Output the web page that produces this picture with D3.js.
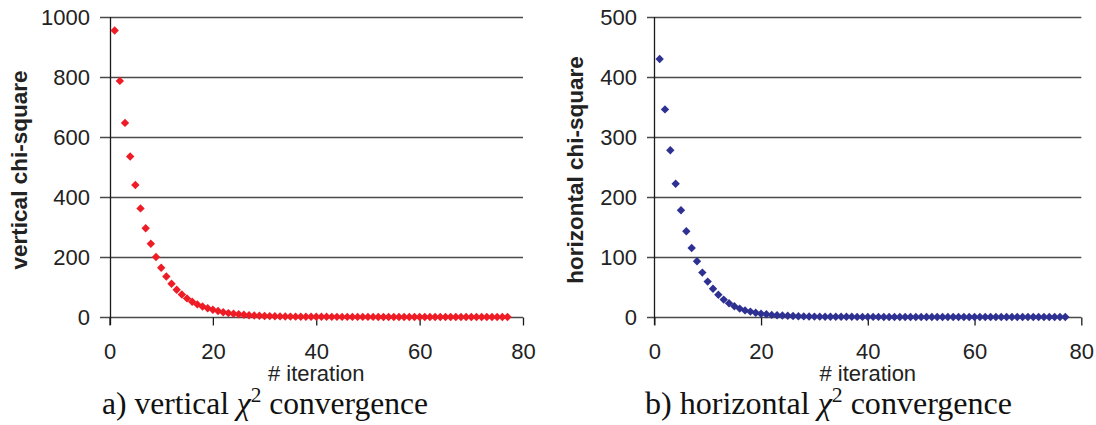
<!DOCTYPE html>
<html>
<head>
<meta charset="utf-8">
<script src="https://cdn.jsdelivr.net/npm/d3@7"></script>
<style>
  body { margin: 0; background: #fff; }
  svg { display: block; }
</style>
</head>
<body>
<script>
/* ===== data ===== */
// iteration numbers 1..77
var iterations = [];
for (var k = 1; k <= 77; k++) iterations.push(k);

var verticalChi = [955, 787, 647, 535, 440, 362, 296, 244, 200, 164,
    135, 111, 91, 75, 62, 51, 42, 35, 29, 24,
    20, 16, 13, 11, 9, 7.5, 6, 5, 4, 3.5,
    3, 2.5, 2, 1.6, 1.3, 1.1, 1, 0.9, 0.8, 0.7,
    0.6, 0.6, 0.5, 0.5, 0.4, 0.4, 0.4, 0.3, 0.3, 0.3,
    0.3, 0.2, 0.2, 0.2, 0.2, 0.2, 0.2, 0.1, 0.1, 0.1,
    0.1, 0.1, 0.1, 0.1, 0.1, 0.1, 0.1, 0.1, 0.1, 0.1,
    0.1, 0.1, 0.1, 0.1, 0.1, 0.1, 0.1];

var horizontalChi = [430, 346, 278, 222, 178, 143, 115, 93, 74, 59,
    47, 37, 29, 23, 18, 14, 11, 9, 7, 5.5,
    4.5, 3.5, 3, 2.5, 2, 1.6, 1.3, 1.0, 0.8, 0.7,
    0.6, 0.5, 0.4, 0.4, 0.3, 0.3, 0.3, 0.2, 0.2, 0.2,
    0.2, 0.2, 0.1, 0.1, 0.1, 0.1, 0.1, 0.1, 0.1, 0.1,
    0.1, 0.1, 0.1, 0.1, 0.1, 0.1, 0.1, 0.1, 0.1, 0.1,
    0.1, 0.1, 0.1, 0.1, 0.1, 0.1, 0.1, 0.1, 0.1, 0.1,
    0.1, 0.1, 0.1, 0.1, 0.1, 0.1, 0.1];

var xTicks = [0, 20, 40, 60, 80];
var vTicks = [0, 200, 400, 600, 800, 1000];
var hTicks = [0, 100, 200, 300, 400, 500];

/* ===== constants ===== */
var w = 1096;
var h = 425;
var sansFont = "'Liberation Sans', Arial, sans-serif";
var serifFont = "'Liberation Serif', 'Times New Roman', serif";
var gridColor = "#4a4a4a";
var axisColor = "#1a1a1a";
var textColor = "#222";

var svg = d3.select("body")
    .append("svg")
    .attr("width", w)
    .attr("height", h);

drawPanel({
    left: 109.5, right: 523, gridStart: 100,
    yMax: 1000, ticks: vTicks, values: verticalChi,
    color: "#ee1c25", yLabel: "vertical chi-square", yLabelX: 27,
    capX: 102, capW: 326, capPrefix: "a) vertical ", capSuffix: " convergence"
});
drawPanel({
    left: 654.3, right: 1081.3, gridStart: 647,
    yMax: 500, ticks: hTicks, values: horizontalChi,
    color: "#2e3192", yLabel: "horizontal chi-square", yLabelX: 583,
    capX: 645, capW: 367, capPrefix: "b) horizontal ", capSuffix: " convergence"
});

function drawPanel(o) {
    var top = 17, bottom = 317;
    var g = svg.append("g");

    var xScale = d3.scaleLinear().domain([0, 80]).range([o.left, o.right]);
    var yScale = d3.scaleLinear().domain([0, o.yMax]).range([bottom, top]);

    // horizontal gridlines (the one at 0 is the x axis)
    g.selectAll("line.grid")
        .data(o.ticks)
        .enter().append("line")
        .attr("class", "grid")
        .attr("x1", o.gridStart)
        .attr("x2", o.right)
        .attr("y1", function (d) { return Math.round(yScale(d)) + 0.5; })
        .attr("y2", function (d) { return Math.round(yScale(d)) + 0.5; })
        .attr("stroke", gridColor)
        .attr("stroke-width", 1.3);

    // x axis ticks pointing down
    var xAxis = d3.axisBottom(xScale)
        .tickValues(xTicks)
        .tickFormat(d3.format("d"))
        .tickSize(8)
        .tickSizeOuter(0)
        .tickPadding(18);
    var xg = g.append("g")
        .attr("transform", "translate(0," + (bottom + 0.5) + ")")
        .call(xAxis);
    xg.select(".domain").remove();
    xg.selectAll(".tick line").attr("stroke", axisColor).attr("stroke-width", 1.3);
    xg.selectAll(".tick text")
        .attr("font-family", sansFont)
        .attr("font-size", "22px")
        .attr("fill", textColor);

    // y axis: labels only, vertical line drawn separately
    var yAxis = d3.axisLeft(yScale)
        .tickValues(o.ticks)
        .tickFormat(d3.format("d"))
        .tickSize(0)
        .tickPadding(o.left - o.gridStart + 10);
    var yg = g.append("g")
        .attr("transform", "translate(" + o.left + ",0)")
        .call(yAxis);
    yg.select(".domain").remove();
    yg.selectAll(".tick text")
        .attr("font-family", sansFont)
        .attr("font-size", "22px")
        .attr("fill", textColor);

    g.append("line")
        .attr("x1", Math.round(o.left) + 0.5)
        .attr("x2", Math.round(o.left) + 0.5)
        .attr("y1", top)
        .attr("y2", bottom + 8)
        .attr("stroke", axisColor)
        .attr("stroke-width", 1.3);

    // diamond markers
    var diamond = "M0,-4.2L4.2,0L0,4.2L-4.2,0Z";
    g.selectAll("path.pt")
        .data(o.values)
        .enter().append("path")
        .attr("class", "pt")
        .attr("d", diamond)
        .attr("transform", function (d, i) {
            return "translate(" + xScale(iterations[i]) + "," + yScale(d) + ")";
        })
        .attr("fill", o.color);

    // y axis title
    g.append("text")
        .attr("transform", "translate(" + o.yLabelX + "," + ((top + bottom) / 2 + 3) + ") rotate(-90)")
        .attr("text-anchor", "middle")
        .attr("font-family", sansFont)
        .attr("font-weight", "bold")
        .attr("font-size", "22.5px")
        .attr("fill", textColor)
        .text(o.yLabel);

    // x axis title
    g.append("text")
        .attr("x", (o.left + o.right) / 2)
        .attr("y", 381)
        .attr("text-anchor", "middle")
        .attr("font-family", sansFont)
        .attr("font-size", "22px")
        .attr("fill", textColor)
        .text("# iteration");

    // caption below the panel
    var cap = g.append("text")
        .attr("x", o.capX)
        .attr("y", 414)
        .attr("font-family", serifFont)
        .attr("font-size", "31px")
        .attr("fill", "#111")
        .attr("textLength", o.capW)
        .attr("lengthAdjust", "spacingAndGlyphs");
    cap.append("tspan").text(o.capPrefix);
    cap.append("tspan").attr("font-style", "italic").text("\u03C7");
    cap.append("tspan").attr("font-size", "21px").attr("dy", -12).text("2");
    cap.append("tspan").attr("dy", 12).text(o.capSuffix);
}
</script>
</body>
</html>
